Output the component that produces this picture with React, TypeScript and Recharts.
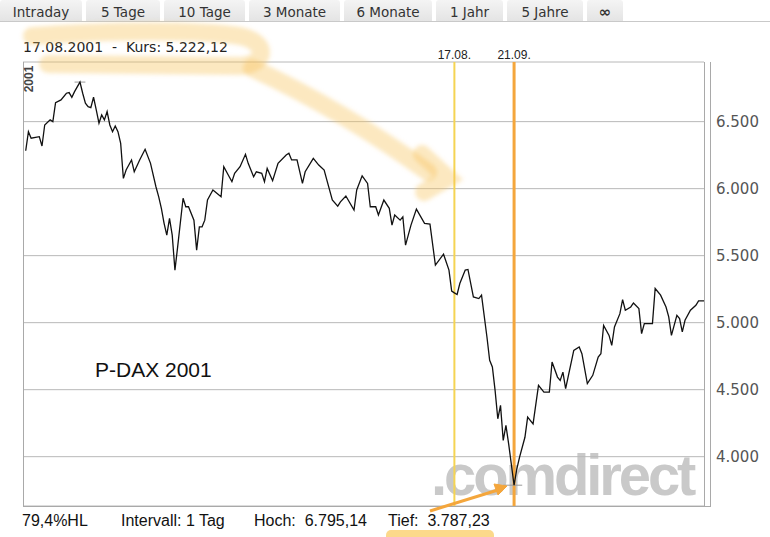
import { LineChart, Line, XAxis, YAxis, CartesianGrid, ReferenceLine } from "recharts";

// Handelstage 2001 (Index ab 2. Januar) und Schlusskurse
const tage = [
  0, 1, 2, 5, 6, 7, 9, 10, 11, 13, 15, 16, 17, 18, 20, 21, 22, 23, 24, 25, 26, 27, 28, 29, 30,
  31, 32, 33, 34, 35, 36, 37, 39, 40, 42, 44, 46, 48, 49, 50, 51, 52, 53, 54, 55, 56, 58, 59,
  60, 62, 63, 64, 65, 66, 67, 69, 72, 73, 75, 76, 77, 79, 81, 82, 84, 85, 87, 88, 89, 91, 93,
  96, 97, 98, 100, 102, 103, 106, 108, 110, 111, 113, 115, 116, 118, 121, 122, 124, 126, 127,
  129, 130, 132, 134, 135, 136, 138, 139, 140, 142, 144, 147, 149, 151, 154, 156, 157, 158,
  159, 160, 162, 163, 165, 167, 168, 170, 171, 172, 173, 174, 175, 176, 177, 178, 180, 181,
  182, 184, 185, 187, 189, 191, 193, 194, 196, 197, 198, 199, 202, 204, 205, 207, 209, 211,
  212, 213, 215, 216, 217, 219, 220, 221, 223, 224, 226, 227, 228, 231, 232, 234, 236, 237,
  238, 240, 241, 242, 243, 245, 247, 248, 250,
];

const kurs = [
  6283, 6425, 6376, 6388, 6318, 6475, 6513, 6500, 6642, 6662, 6712, 6717, 6682, 6724, 6795,
  6712, 6637, 6612, 6605, 6682, 6587, 6488, 6550, 6513, 6575, 6475, 6425, 6468, 6425, 6338,
  6077, 6139, 6214, 6126, 6214, 6294, 6189, 6014, 5940, 5853, 5741, 5653, 5778, 5653, 5392,
  5566, 5928, 5865, 5865, 5765, 5541, 5715, 5715, 5765, 5915, 5990, 5940, 6164, 6089, 6052,
  6114, 6164, 6256, 6189, 6089, 6126, 6114, 6052, 6151, 6059, 6189, 6251, 6264, 6214, 6214,
  6039, 6126, 6226, 6176, 6139, 6064, 5915, 5870, 5902, 5945, 5840, 5990, 6096, 6039, 5865,
  5865, 5803, 5915, 5853, 5728, 5803, 5765, 5790, 5578, 5728, 5847, 5741, 5735, 5429, 5511,
  5392, 5235, 5222, 5210, 5292, 5392, 5397, 5192, 5180, 5205, 4893, 4719, 4669, 4495, 4283,
  4383, 4121, 4233, 4096, 3787, 3908, 3995, 4145, 4295, 4245, 4532, 4482, 4482, 4706, 4594,
  4569, 4631, 4507, 4793, 4818, 4768, 4545, 4607, 4744, 4768, 4980, 4905, 4831, 4968, 5067,
  5172, 5093, 5117, 5147, 5105, 4918, 4993, 4993, 5255, 5205, 5117, 5043, 4905, 5055, 5030,
  4931, 5018, 5093, 5130, 5163, 5163,
];

const yTicks = [4000, 4500, 5000, 5500, 6000, 6500];
const tabs = ["Intraday", "5 Tage", "10 Tage", "3 Monate", "6 Monate", "1 Jahr", "5 Jahre", "∞"];
const tabEdges = [0, 86, 164, 249, 344, 436, 507, 587, 627];

const markers = [
  { tag: 158, label: "17.08.", color: "#f5d453", width: 2 },
  { tag: 180, label: "21.09.", color: "#f4a63c", width: 3 },
];
const hoch = { von: 18, bis: 22, wert: 6795.14 };
const tief = { von: 176, bis: 183, wert: 3787.23 };

const data = tage.map((t, i) => ({ tag: t, kurs: kurs[i] }));

const deNum = (v: number) => String(v).replace(/\B(?=(\d{3})+(?!\d))/g, ".");

const abs = (left: number, top: number, extra: any = {}) => ({
  position: "absolute" as const,
  left,
  top,
  whiteSpace: "pre" as const,
  ...extra,
});

const fuss = { fontFamily: "Liberation Sans", fontSize: 16, color: "#111", lineHeight: "20px" };

export default function App() {
  return (
    <div
      style={{
        position: "absolute",
        left: 0,
        top: 0,
        width: 770,
        height: 537,
        background: "#fff",
        overflow: "hidden",
      }}
    >
      {/* Tab-Leiste */}
      <div style={abs(0, 21, { width: 770, height: 1, background: "#c9c9c9" })} />
      {tabs.map((t, i) => (
        <div
          key={t}
          style={abs(tabEdges[i], 0, {
            width: tabEdges[i + 1] - tabEdges[i] - 4,
            height: 21,
            background: "linear-gradient(#f4f4f4, #e4e4e4)",
            borderRadius: "3px 3px 0 0",
            textAlign: "center",
            lineHeight: "24px",
            fontFamily: "DejaVu Sans",
            fontSize: i === 7 ? 15 : 13.5,
            fontWeight: i === 7 ? "bold" : "normal",
            color: "#333",
          })}
        >
          {t}
        </div>
      ))}

      <div style={abs(23, 37, { fontFamily: "DejaVu Sans", fontSize: 14, color: "#222", lineHeight: "20px" })}>
        {"17.08.2001  -  Kurs: 5.222,12"}
      </div>

      {/* Wasserzeichen */}
      <div
        style={abs(431, 440, {
          fontFamily: "Liberation Sans",
          fontWeight: "bold",
          fontSize: 58,
          letterSpacing: -3.1,
          color: "#c9c9c9",
          lineHeight: "70px",
        })}
      >
        .comdirect
      </div>

      <div style={abs(95, 357, { fontFamily: "Liberation Sans", fontSize: 21, color: "#111", lineHeight: "26px" })}>
        P-DAX 2001
      </div>

      <div style={{ position: "absolute", left: 0, top: 0 }}>
        <LineChart width={770} height={537} data={data} margin={{ top: 62, right: 0, bottom: 31, left: 23 }}>
          <CartesianGrid vertical={false} stroke="#b8b8b8" />
          <XAxis dataKey="tag" type="number" domain={[-1, 250]} hide />
          <YAxis
            orientation="right"
            width={66}
            domain={[3632, 6945]}
            allowDataOverflow
            ticks={yTicks}
            tickFormatter={deNum}
            axisLine={false}
            tickLine={false}
            tickMargin={6}
            tick={{ fill: "#555", fontSize: 15, fontFamily: "DejaVu Sans" }}
          />
          {markers.map((m) => (
            <ReferenceLine
              key={m.label}
              x={m.tag}
              stroke={m.color}
              strokeWidth={m.width}
              label={{ value: m.label, position: "top", offset: 3, fill: "#222", fontSize: 12, fontFamily: "Liberation Sans" }}
            />
          ))}
          <ReferenceLine segment={[{ x: hoch.von, y: hoch.wert }, { x: hoch.bis, y: hoch.wert }]} stroke="#9a9a9a" />
          <ReferenceLine segment={[{ x: tief.von, y: tief.wert }, { x: tief.bis, y: tief.wert }]} stroke="#9a9a9a" />
          <Line
            type="linear"
            dataKey="kurs"
            stroke="#111"
            strokeWidth={1.3}
            dot={false}
            isAnimationActive={false}
          />
        </LineChart>
      </div>

      {/* Rahmen und Markierungen */}
      <svg width={770} height={537} style={{ position: "absolute", left: 0, top: 0, pointerEvents: "none" }}>
        <defs>
          <filter id="weich">
            <feGaussianBlur stdDeviation="2" />
          </filter>
        </defs>
        <g stroke="#a9a9a9" strokeWidth={1} fill="none">
          <line x1={23.5} y1={62} x2={23.5} y2={506.5} />
          <line x1={23} y1={506.5} x2={711} y2={506.5} />
          <line x1={704.5} y1={62} x2={704.5} y2={506.5} />
          <line x1={710.5} y1={62} x2={710.5} y2={506.5} />
        </g>
        <text
          transform="translate(32.5 79) rotate(-90)"
          textAnchor="middle"
          fontFamily="Liberation Sans"
          fontWeight="bold"
          fontSize={12}
          fill="#444"
        >
          2001
        </text>
        <g stroke="#f8c35a" strokeOpacity={0.38} strokeWidth={18} fill="none" strokeLinecap="round" filter="url(#weich)">
          <path d="M 32 36 C 110 30 200 30 240 36 C 268 42 268 64 240 66 L 48 64" />
          <path d="M 252 68 C 310 95 370 130 428 172" />
          <path d="M 422 154 L 448 178 L 424 192" />
        </g>
        <rect x={386} y={530} width={108} height={12} rx={5} fill="#fbcf6e" opacity={0.8} />
        <g stroke="#f4a63c" strokeWidth={3} fill="#f4a63c">
          <line x1={430} y1={511} x2={498} y2={490} />
          <path d="M 507 486 L 494 484 L 498 495 Z" strokeWidth={1} />
        </g>
      </svg>

      <div style={abs(22, 511, fuss)}>79,4%HL</div>
      <div style={abs(121, 511, fuss)}>Intervall: 1 Tag</div>
      <div style={abs(254, 511, fuss)}>{"Hoch:  6.795,14"}</div>
      <div style={abs(388, 511, fuss)}>{"Tief:  3.787,23"}</div>
    </div>
  );
}
